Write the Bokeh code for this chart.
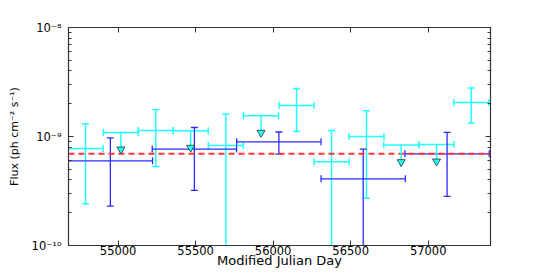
import numpy as np
from bokeh.plotting import figure
from bokeh.models import (Whisker, TeeHead, ColumnDataSource, LogAxis, LinearAxis,
                          FixedTicker, Span, Range1d)
from bokeh.embed import file_html
from bokeh.resources import INLINE

# ---- data ----
# cyan detections
c_mjd = [54790, 55243, 55695, 56151, 56377, 56602, 57278]
c_flux = [7.76e-10, 1.135e-9, 8.27e-10, 1.92e-9, 5.86e-10, 1.0e-9, 2.05e-9]
c_lo = [2.41e-10, 5.31e-10, 1e-11, 1.11e-9, 1e-11, 2.72e-10, 1.33e-9]
c_hi = [1.31e-9, 1.76e-9, 1.61e-9, 2.75e-9, 1.135e-9, 1.72e-9, 2.78e-9]
c_halfwidth = 113

# cyan upper limits
ul_mjd = [55018, 55468, 55922, 56826, 57054]
ul_flux = [1.09e-9, 1.13e-9, 1.55e-9, 8.34e-10, 8.45e-10]

# blue detections
b_mjd = [54950, 55492, 56037, 56581, 57122]
b_flux = [5.98e-10, 7.66e-10, 8.94e-10, 4.09e-10, 6.94e-10]
b_lo = [2.3e-10, 3.2e-10, 6.9e-10, 1e-11, 2.82e-10]
b_hi = [9.7e-10, 1.21e-9, 1.1e-9, 7.66e-10, 1.09e-9]
b_halfwidth = 272

mean_flux = 6.94e-10

x_ticks = [55000, 55500, 56000, 56500, 57000]
x_tick_labels = ["55000", "55500", "56000", "56500", "57000"]
y_ticks = [1e-10, 1e-9, 1e-8]
y_tick_labels = ["10\u207b\u00b9\u2070", "10\u207b\u2079", "10\u207b\u2078"]

CYAN = "#22ffff"
BLUE = "#2b2bff"
AXC = "#333333"
FONT = "DejaVu Sans"

p = figure(width=545, height=273, x_range=Range1d(54680, 57402),
           y_range=Range1d(1e-10, 1e-8), y_axis_type="log",
           output_backend="svg", toolbar_location=None,
           min_border_left=68, min_border_right=55, min_border_top=27,
           min_border_bottom=28)
p.grid.visible = False
p.outline_line_color = AXC
p.background_fill_color = "white"
p.border_fill_color = "white"

minor_y = [m * d for d in y_ticks[:-1] for m in range(2, 10)]
yticker = FixedTicker(ticks=y_ticks, minor_ticks=minor_y)
xticker = FixedTicker(ticks=x_ticks, minor_ticks=[])


def style_axis(ax):
    ax.axis_line_color = AXC
    ax.axis_line_width = 1.2
    ax.major_tick_line_color = AXC
    ax.minor_tick_line_color = AXC
    ax.major_tick_in = 5
    ax.major_tick_out = 0
    ax.minor_tick_in = 3
    ax.minor_tick_out = 0
    ax.major_label_text_font = FONT
    ax.major_label_text_font_size = "11.5px"
    ax.major_label_text_color = "black"
    ax.axis_label_text_font = FONT
    ax.axis_label_text_font_style = "normal"
    ax.axis_label_text_color = "black"


xa = p.xaxis[0]
xa.ticker = xticker
xa.major_label_overrides = dict(zip(x_ticks, x_tick_labels))
style_axis(xa)
xa.major_label_standoff = 0
xa.axis_label = "Modified Julian Day"
xa.axis_label_text_font_size = "13px"
xa.axis_label_standoff = -5

ya = p.yaxis[0]
ya.ticker = yticker
ya.major_label_overrides = dict(zip(y_ticks, y_tick_labels))
style_axis(ya)
ya.major_label_standoff = 7
ya.axis_label = "Flux (ph cm\u207b\u00b2 s\u207b\u00b9)"
ya.axis_label_text_font_size = "11px"
ya.axis_label_standoff = 8

top = LinearAxis(ticker=xticker, major_label_overrides={t: "" for t in x_ticks})
style_axis(top)
p.add_layout(top, "above")
right = LogAxis(ticker=yticker, major_label_overrides={t: "" for t in y_ticks})
style_axis(right)
p.add_layout(right, "right")

# ---- cyan detections ----
c_src = ColumnDataSource(dict(
    x=c_mjd, y=c_flux, lo=c_lo, hi=c_hi,
    xl=[m - c_halfwidth for m in c_mjd], xh=[m + c_halfwidth for m in c_mjd]))
for dim, base, lo, hi in [("height", "x", "lo", "hi"), ("width", "y", "xl", "xh")]:
    w = Whisker(source=c_src, base=base, lower=lo, upper=hi, dimension=dim,
                line_color=CYAN, line_width=1.5,
                upper_head=TeeHead(size=7, line_color=CYAN, line_width=1.5),
                lower_head=TeeHead(size=7, line_color=CYAN, line_width=1.5))
    p.add_layout(w)

# ---- cyan upper limits ----
ul_src = ColumnDataSource(dict(
    x=ul_mjd, y=ul_flux,
    xl=[m - c_halfwidth for m in ul_mjd], xh=[m + c_halfwidth for m in ul_mjd],
    yend=[f * 0.70 for f in ul_flux]))
p.add_layout(Whisker(source=ul_src, base="y", lower="xl", upper="xh", dimension="width",
                     line_color=CYAN, line_width=1.5,
                     upper_head=TeeHead(size=7, line_color=CYAN, line_width=1.5),
                     lower_head=TeeHead(size=7, line_color=CYAN, line_width=1.5)))

# ---- blue detections ----
b_src = ColumnDataSource(dict(
    x=b_mjd, y=b_flux, lo=b_lo, hi=b_hi,
    xl=[m - b_halfwidth for m in b_mjd], xh=[m + b_halfwidth for m in b_mjd]))
for dim, base, lo, hi in [("height", "x", "lo", "hi"), ("width", "y", "xl", "xh")]:
    w = Whisker(source=b_src, base=base, lower=lo, upper=hi, dimension=dim,
                line_color=BLUE, line_width=1.3,
                upper_head=TeeHead(size=7, line_color=BLUE, line_width=1.3),
                lower_head=TeeHead(size=7, line_color=BLUE, line_width=1.3))
    p.add_layout(w)

# mean flux
p.add_layout(Span(location=mean_flux, dimension="width", line_color="#ff3333",
                  line_width=2, line_dash="6 4"))

# arrows for upper limits
p.segment(x0="x", y0="y", x1="x", y1="yend", source=ul_src, line_color=CYAN,
          line_width=1.5, level="overlay")
p.scatter(x="x", y="yend", source=ul_src, marker="inverted_triangle", size=8,
          fill_color=CYAN, line_color="#335555", line_width=1, level="overlay")

open("out.html", "w").write(file_html(p, INLINE))
